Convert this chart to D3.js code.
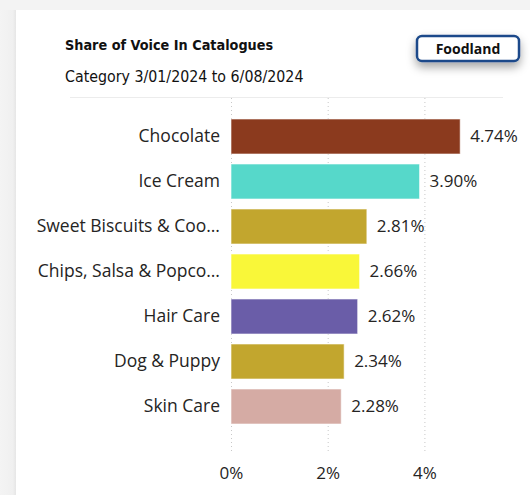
<!DOCTYPE html>
<html>
<head>
<meta charset="utf-8">
<script src="https://cdn.jsdelivr.net/npm/d3@7"></script>
<style>
  body { margin: 0; background: #f3f3f3; }
  svg { display: block; }
</style>
</head>
<body>
<div id="chart"></div>
<script>
// data
var categories = ["Chocolate", "Ice Cream", "Sweet Biscuits & Coo\u2026", "Chips, Salsa & Popco\u2026", "Hair Care", "Dog & Puppy", "Skin Care"];
var shares = [4.74, 3.90, 2.81, 2.66, 2.62, 2.34, 2.28];
var barColors = ["#8b3a1e", "#56d8ca", "#c2a62e", "#f9f739", "#6a5da8", "#c2a62e", "#d5aba4"];
var tickValues = [0, 2, 4];

var width = 530, height = 495;

var svg = d3.select("#chart").append("svg")
  .attr("width", width)
  .attr("height", height);

var defs = svg.append("defs");
var shadow = defs.append("filter").attr("id", "shadow")
  .attr("x", "-30%").attr("y", "-50%").attr("width", "160%").attr("height", "260%");
shadow.append("feDropShadow")
  .attr("dx", 0).attr("dy", 5).attr("stdDeviation", 5)
  .attr("flood-color", "#000").attr("flood-opacity", 0.35);

var leftShade = defs.append("linearGradient").attr("id", "leftShade");
leftShade.append("stop").attr("offset", "0%").attr("stop-color", "#f4f4f4");
leftShade.append("stop").attr("offset", "80%").attr("stop-color", "#f0f0f0");
leftShade.append("stop").attr("offset", "100%").attr("stop-color", "#e6e6e6");

// page background + card
svg.append("rect").attr("width", width).attr("height", height).attr("fill", "#f3f3f3");
svg.append("rect").attr("x", 0).attr("y", 10).attr("width", 16).attr("height", height)
  .attr("fill", "url(#leftShade)");
svg.append("rect").attr("x", 16).attr("y", 10).attr("width", width - 16).attr("height", height)
  .attr("fill", "#fff");

// titles
svg.append("text")
  .attr("x", 65).attr("y", 50)
  .attr("font-family", "'DejaVu Sans Condensed', 'DejaVu Sans', sans-serif")
  .attr("font-weight", "bold")
  .attr("font-size", 14.3)
  .attr("fill", "#111")
  .text("Share of Voice In Catalogues");

svg.append("text")
  .attr("x", 65).attr("y", 82)
  .attr("font-family", "'DejaVu Sans Condensed', 'DejaVu Sans', sans-serif")
  .attr("font-size", 15.8)
  .attr("fill", "#111")
  .text("Category 3/01/2024 to 6/08/2024");

// Foodland button
var btn = svg.append("g").attr("transform", "translate(417,36)");
btn.append("rect")
  .attr("width", 102).attr("height", 25).attr("rx", 5)
  .attr("fill", "#fff")
  .attr("stroke", "#1d4a8a").attr("stroke-width", 2.5)
  .attr("filter", "url(#shadow)");
btn.append("text")
  .attr("x", 51).attr("y", 18)
  .attr("text-anchor", "middle")
  .attr("font-family", "'Open Sans', 'DejaVu Sans', sans-serif")
  .attr("font-weight", "bold")
  .attr("font-size", 14)
  .attr("fill", "#111")
  .text("Foodland");

// separator
svg.append("line")
  .attr("x1", 70).attr("x2", 503).attr("y1", 97.5).attr("y2", 97.5)
  .attr("stroke", "#ececec");

// scales
var x = d3.scaleLinear().domain([0, 1]).range([231, 231 + 48.35]);
var y = d3.scaleBand().domain(categories).range([114, 429])
  .paddingInner(0.222).paddingOuter(0.111);

var font = "'Segoe UI', 'Open Sans', 'Noto Sans', sans-serif";

// gridlines
svg.append("g").selectAll("line")
  .data(tickValues)
  .join("line")
  .attr("x1", function (d) { return x(d) + 0.5; })
  .attr("x2", function (d) { return x(d) + 0.5; })
  .attr("y1", 98).attr("y2", 452)
  .attr("stroke", "#c8c8c8")
  .attr("stroke-dasharray", "1,3");

// x axis
var xAxis = svg.append("g")
  .attr("transform", "translate(0,452)")
  .call(d3.axisBottom(x).tickValues(tickValues).tickSize(0).tickPadding(15)
    .tickFormat(function (d) { return d + "%"; }));
xAxis.select(".domain").remove();
xAxis.selectAll("text")
  .attr("font-family", font)
  .attr("font-size", 17)
  .attr("fill", "#252423");

// y axis
var yAxis = svg.append("g")
  .attr("transform", "translate(231,0)")
  .call(d3.axisLeft(y).tickSize(0).tickPadding(11));
yAxis.select(".domain").remove();
yAxis.selectAll("text")
  .attr("font-family", font)
  .attr("font-size", 17.5)
  .attr("fill", "#252423");

// bars
svg.append("g").selectAll("rect")
  .data(shares)
  .join("rect")
  .attr("x", x(0))
  .attr("y", function (d, i) { return y(categories[i]); })
  .attr("width", function (d) { return x(d) - x(0); })
  .attr("height", y.bandwidth())
  .attr("fill", function (d, i) { return barColors[i]; })
  .attr("stroke", "rgba(255,255,255,0.6)")
  .attr("stroke-width", 1);

// value labels
svg.append("g").selectAll("text")
  .data(shares)
  .join("text")
  .attr("x", function (d) { return x(d) + 10; })
  .attr("y", function (d, i) { return y(categories[i]) + y.bandwidth() / 2; })
  .attr("dy", "0.35em")
  .attr("font-family", font)
  .attr("font-size", 17)
  .attr("fill", "#252423")
  .text(function (d) { return d.toFixed(2) + "%"; });
</script>
</body>
</html>
